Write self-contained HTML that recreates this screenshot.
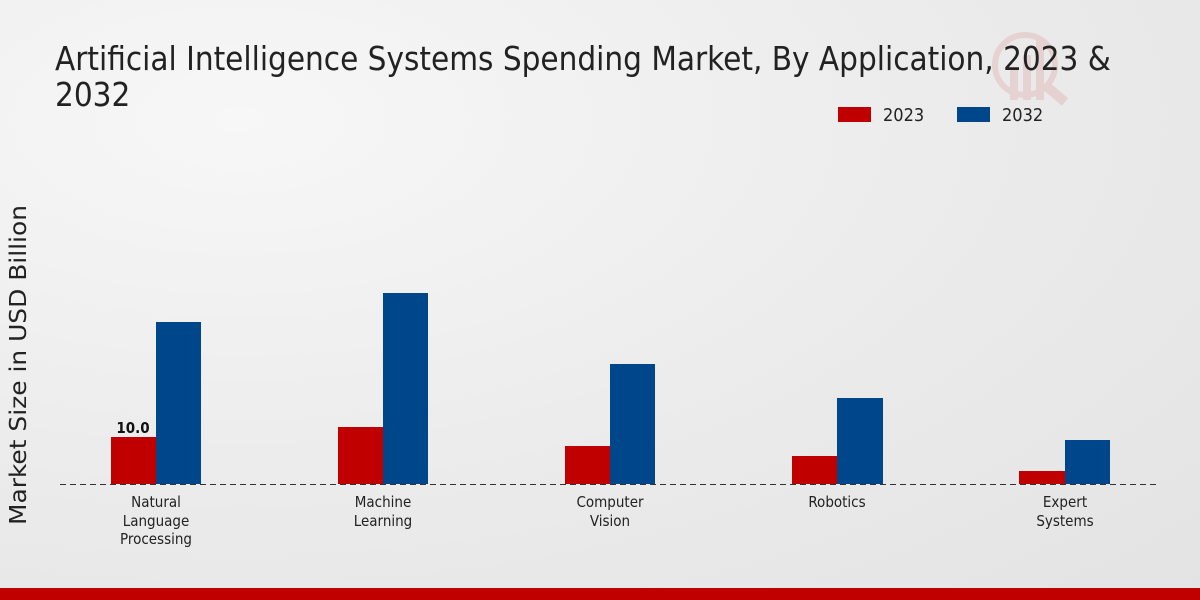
<!DOCTYPE html>
<html><head><meta charset="utf-8"><style>
html,body{margin:0;padding:0}
body{width:1200px;height:600px;overflow:hidden;background:radial-gradient(ellipse at 20% 20%,#f7f7f7 0%,#ebebeb 55%,#e3e3e3 100%);position:relative;font-family:"DejaVu Sans Condensed","DejaVu Sans","Liberation Sans",sans-serif;font-stretch:condensed}
</style></head><body>
<svg width="1200" height="600" xmlns="http://www.w3.org/2000/svg" style="position:absolute;left:0;top:0">
<g opacity="0.1" fill="#c00">
<circle cx="1025" cy="65" r="30" fill="none" stroke="#c00" stroke-width="6"/>
<rect x="1010" y="70" width="8" height="30"/><rect x="1023" y="55" width="8" height="45"/><rect x="1036" y="40" width="8" height="60"/>
<line x1="1045" y1="85" x2="1065" y2="102" stroke="#c00" stroke-width="10"/>
</g>
<text x="55" y="70" font-size="32.9" fill="#222" style="font-family:'DejaVu Sans Condensed','DejaVu Sans',sans-serif;font-stretch:condensed">Artificial Intelligence Systems Spending Market, By Application, 2023 &amp;</text>
<text x="55" y="106" font-size="32.9" fill="#222" style="font-family:'DejaVu Sans Condensed','DejaVu Sans',sans-serif;font-stretch:condensed">2032</text>
<rect x="838" y="107" width="33" height="15" fill="#c00000"/>
<text x="883" y="121" font-size="18" fill="#222">2023</text>
<rect x="957" y="107" width="33" height="15" fill="#00468b"/>
<text x="1002" y="121" font-size="18" fill="#222">2032</text>
<text transform="translate(26,525) rotate(-90)" x="0" y="0" font-size="23" fill="#222" textLength="320" lengthAdjust="spacingAndGlyphs">Market Size in USD Billion</text>
<g>
<rect x="111" y="437" width="45" height="47" fill="#c00000"/><rect x="156" y="322" width="45" height="162" fill="#00468b"/>
<rect x="338" y="427" width="45" height="57" fill="#c00000"/><rect x="383" y="293" width="45" height="191" fill="#00468b"/>
<rect x="565" y="446" width="45" height="38" fill="#c00000"/><rect x="610" y="364" width="45" height="120" fill="#00468b"/>
<rect x="792" y="456" width="45" height="28" fill="#c00000"/><rect x="837" y="398" width="46" height="86" fill="#00468b"/>
<rect x="1019" y="471" width="46" height="13" fill="#c00000"/><rect x="1065" y="440" width="45" height="44" fill="#00468b"/>
</g>
<text x="133" y="433" text-anchor="middle" font-size="15" font-weight="bold" fill="#111">10.0</text>
<line x1="60" y1="484.5" x2="1160" y2="484.5" stroke="#333" stroke-width="1" stroke-dasharray="6,4"/>
<g font-size="15" fill="#222" text-anchor="middle">
<text x="156" y="507">Natural</text><text x="156" y="526">Language</text><text x="156" y="544">Processing</text>
<text x="383" y="507">Machine</text><text x="383" y="526">Learning</text>
<text x="610" y="507">Computer</text><text x="610" y="526">Vision</text>
<text x="837" y="507">Robotics</text>
<text x="1065" y="507">Expert</text><text x="1065" y="526">Systems</text>
</g>
<rect x="0" y="588" width="1200" height="12" fill="#c00000"/>
</svg>
</body></html>
